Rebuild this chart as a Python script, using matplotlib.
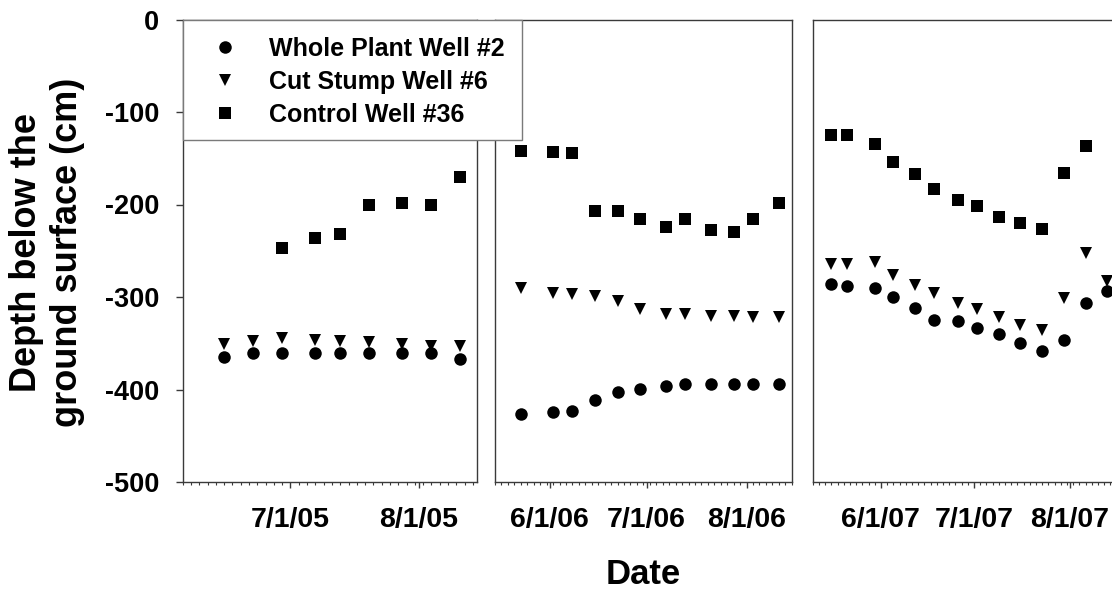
import numpy as np
import matplotlib
matplotlib.use('Agg')
import matplotlib.pyplot as plt
import matplotlib.dates as mdates
from matplotlib.lines import Line2D
from matplotlib.patches import Rectangle
from matplotlib.ticker import FixedLocator, FuncFormatter, MultipleLocator

plt.rcParams['font.family'] = ['Liberation Sans', 'DejaVu Sans']
plt.rcParams['font.weight'] = 'bold'
plt.rcParams['axes.unicode_minus'] = False

# --- data (depth in cm) ---
dates_05 = ['2005-06-15', '2005-06-22', '2005-06-29', '2005-07-07', '2005-07-13',
            '2005-07-20', '2005-07-28', '2005-08-04', '2005-08-11']
whole_05 = [-365, -360, -360, -360, -360, -361, -361, -361, -367]
stump_05 = [-351, -348, -344, -347, -348, -349, -351, -353, -353]
control_05 = [np.nan, np.nan, -247, -236, -232, -201, -198, -200, -170]

dates_06 = ['2006-05-23', '2006-06-02', '2006-06-08', '2006-06-15', '2006-06-22', '2006-06-29',
            '2006-07-07', '2006-07-13', '2006-07-21', '2006-07-28', '2006-08-03', '2006-08-11']
whole_06 = [-426, -424, -423, -411, -403, -399, -396, -394, -394, -394, -394, -394]
stump_06 = [-290, -296, -297, -299, -304, -313, -318, -318, -320, -321, -322, -322]
control_06 = [-142, -143, -144, -207, -207, -216, -224, -216, -228, -230, -216, -198]

dates_07 = ['2007-05-16', '2007-05-21', '2007-05-30', '2007-06-05', '2007-06-12', '2007-06-18',
            '2007-06-26', '2007-07-02', '2007-07-09', '2007-07-16', '2007-07-23', '2007-07-30',
            '2007-08-06', '2007-08-13']
whole_07 = [-286, -288, -290, -300, -312, -325, -326, -333, -340, -350, -358, -346, -307, -294]
stump_07 = [-264, -264, -262, -276, -287, -296, -306, -313, -322, -330, -336, -301, -252, -283]
control_07 = [-125, -125, -135, -154, -167, -183, -195, -202, -213, -220, -227, -166, -137, np.nan]

labels = ['Whole Plant Well #2', 'Cut Stump Well #6', 'Control Well #36']
x_ranges = [('2005-06-05', '2005-08-15'), ('2006-05-15', '2006-08-15'), ('2007-05-10', '2007-08-15')]

fig = plt.figure(figsize=(11.12, 5.94), dpi=100)
W, H = 1112.0, 594.0
top_px, bot_px = 19.5, 482.0
boxes = [(182.7, 294.3), (495.0, 296.7), (812.7, 300.8)]
spine_c = '#3a3a3a'


def date_fmt(x, pos):
    d = mdates.num2date(x)
    return f'{d.month}/{d.day}/{d:%y}'


series = [(dates_05, whole_05, stump_05, control_05),
          (dates_06, whole_06, stump_06, control_06),
          (dates_07, whole_07, stump_07, control_07)]

for i, ((d, w, s, c), (x0, x1), (left, width)) in enumerate(zip(series, x_ranges, boxes)):
    ax = fig.add_axes([left / W, 1 - bot_px / H, width / W, (bot_px - top_px) / H])
    dd = np.array(d, dtype='datetime64[D]')
    ax.plot(dd, w, ls='none', marker='o', ms=9, mew=0, color='black', clip_on=False)
    ax.plot(dd, s, ls='none', marker='v', ms=8.5, mew=0, color='black', clip_on=False)
    ax.plot(dd, c, ls='none', marker='s', ms=8, mew=0, color='black', clip_on=False)

    lo, hi = np.datetime64(x0), np.datetime64(x1)
    ax.set_xlim(lo, hi)
    ax.set_ylim(-500, 0)
    ax.xaxis.set_major_locator(mdates.MonthLocator())
    ax.xaxis.set_major_formatter(FuncFormatter(date_fmt))
    minors = np.arange(lo, hi + np.timedelta64(1, 'D'), np.timedelta64(2, 'D'))
    ax.xaxis.set_minor_locator(FixedLocator(mdates.date2num(minors)))
    ax.tick_params(axis='x', which='major', length=4.3, width=1, color=spine_c,
                   labelsize=20.5, pad=14)
    ax.tick_params(axis='x', which='minor', length=2.2, width=0.8, color=spine_c)
    for sp in ax.spines.values():
        sp.set_color(spine_c)
        sp.set_linewidth(1.0)
    if i == 0:
        ax.yaxis.set_major_locator(MultipleLocator(100))
        ax.tick_params(axis='y', length=4.8, width=1, color=spine_c, labelsize=19.5, pad=12)
    else:
        ax.tick_params(axis='y', left=False, labelleft=False)

# legend box drawn over the panels
fig.add_artist(Rectangle((182.7 / W, 1 - 140 / H), 339 / W, 120 / H, transform=fig.transFigure,
                         facecolor='white', edgecolor='#7a7a7a', lw=1.0, zorder=3))
handles = [Line2D([], [], ls='none', marker='o', ms=9, mew=0, color='black'),
           Line2D([], [], ls='none', marker='v', ms=8.5, mew=0, color='black'),
           Line2D([], [], ls='none', marker='s', ms=8, mew=0, color='black')]
leg = fig.legend(handles, labels, loc='upper left', bbox_to_anchor=(212.5 / W, 1 - 36.5 / H),
                 bbox_transform=fig.transFigure, frameon=False, borderpad=0, borderaxespad=0,
                 handlelength=1.0, handletextpad=1.27, labelspacing=0.36, numpoints=1,
                 prop={'size': 18, 'weight': 'bold'})
leg.set_zorder(4)

fig.text(47 / W, 1 - 252 / H, 'Depth below the\nground surface (cm)', rotation=90,
         ha='center', va='center', fontsize=26, fontweight='bold', linespacing=1.25)
fig.text(643.7 / W, 1 - 584.3 / H, 'Date', ha='center', va='baseline',
         fontsize=25, fontweight='bold')

fig.savefig('out.png', dpi=100, facecolor='white')
